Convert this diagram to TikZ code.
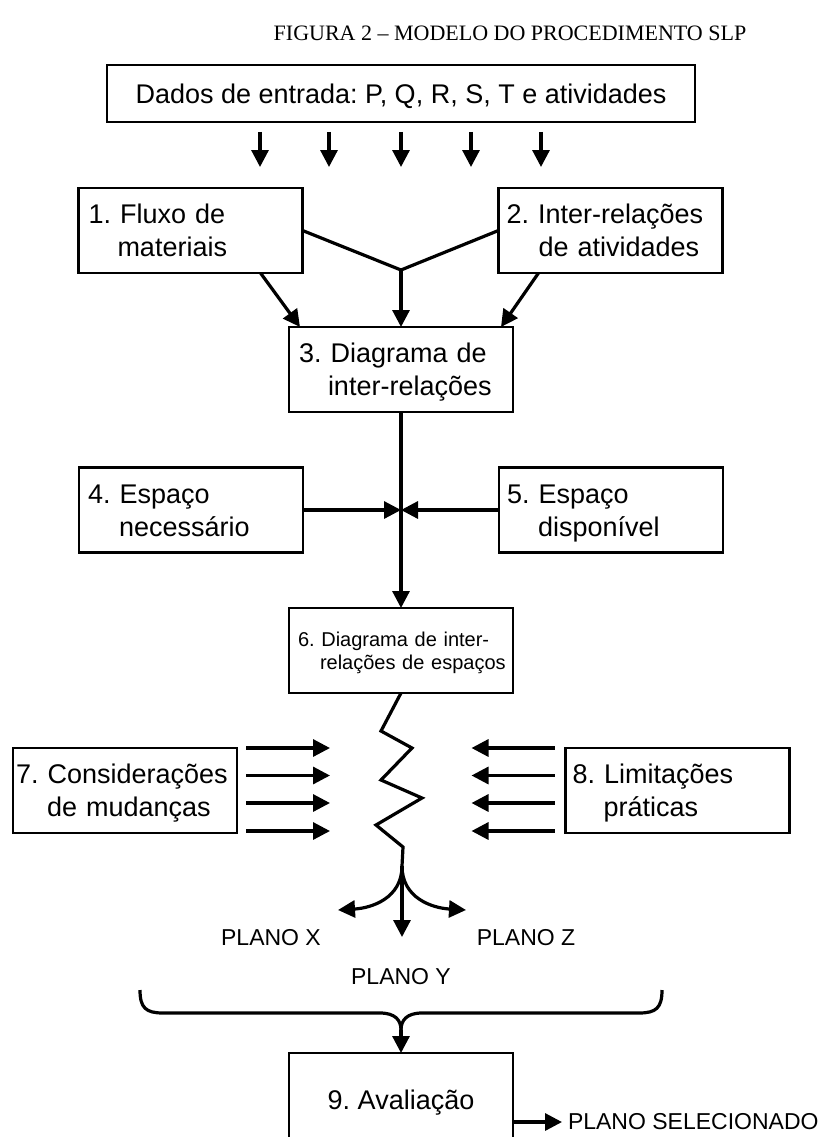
\documentclass[tikz,border=0pt]{standalone}
\usepackage{fontspec}
\setmainfont{Liberation Serif}
\newfontfamily\arialf{Liberation Sans}
\usetikzlibrary{arrows.meta,calc}
\newcommand\lstr{\rule[-6.85pt]{0pt}{33pt}}
\newcommand\sstr{\rule[-4.35pt]{0pt}{23pt}}
\begin{document}
\frenchspacing
\begin{tikzpicture}[x=1pt,y=-1pt,
  every node/.style={inner sep=0pt,outer sep=0pt},
  bx/.style={draw,line width=2.2pt,text width=224pt,minimum height=85pt,align=left,
    font=\arialf\frenchspacing\fontsize{27}{33}\selectfont},
  arr/.style={line width=3.2pt,-{Triangle[length=17pt,width=17pt]}},
  ln/.style={line width=3.2pt},
  lbl/.style={font=\arialf\fontsize{23}{27}\selectfont}]
\useasboundingbox (0,0) rectangle (826,1137);
\node[font=\fontsize{22}{26}\selectfont] (title) at (510,33) {FIGURA 2 – MODELO DO PROCEDIMENTO SLP};
\node[draw,line width=2.2pt,minimum width=588pt,minimum height=57pt,
  font=\arialf\frenchspacing\fontsize{27}{33}\selectfont] (top) at (401,93.5) {\lstr Dados de entrada: P, Q, R, S, T e atividades};
\foreach \dx in {-141,-72,0,70,140}
  \draw[arr] ($(top.south)+(\dx,10)$) -- ++(0,35);
\node[bx] (n1) at (190.5,230.5) {\hspace*{10pt}\lstr 1. Fluxo de\\\hspace*{39pt}\lstr materiais};
\node[bx] (n2) at (610.5,230.5) {\hspace*{8pt}\lstr 2. Inter-relações\\\hspace*{40pt}\lstr de atividades};
\node[bx] (n3) at (401,369.5) {\hspace*{10pt}\lstr 3. Diagrama de\\\hspace*{39pt}\lstr inter-relações};
\coordinate (J) at (401,270);
\draw[ln,line join=miter] (n1.east) -- (J) -- (n2.west);
\draw[arr] (J) -- (n3.north);
\draw[arr] ($(n1.south)+(70,0)$) -- ($(n3.north)+(-101,0)$);
\draw[arr] ($(n2.south)+(-72,0)$) -- ($(n3.north)+(100,0)$);
\node[bx] (n4) at (191,510) {\hspace*{9pt}\lstr 4. Espaço\\\hspace*{40pt}\lstr necessário};
\node[bx] (n5) at (611,510) {\hspace*{8pt}\lstr 5. Espaço\\\hspace*{39pt}\lstr disponível};
\node[bx,font=\arialf\frenchspacing\fontsize{20}{23}\selectfont] (n6) at (401,650.5) {\hspace*{9pt}\sstr 6. Diagrama de inter-\\\hspace*{31pt}\sstr relações de espaços};
\coordinate (M) at (401,510);
\draw[arr] (n3.south) -- (n6.north);
\draw[arr] (n4.east) -- (M);
\draw[arr] (n5.west) -- (M);
\node[bx] (n7) at (125,790.5) {\hspace*{3pt}\lstr 7. Considerações\\\hspace*{34pt}\lstr de mudanças};
\node[bx] (n8) at (677.5,790.5) {\hspace*{7pt}\lstr 8. Limitações\\\hspace*{38pt}\lstr práticas};
\foreach \dy in {-42.5,-15,12.5,40.5}{
  \draw[arr] ($(n7.east)+(9,\dy)$) -- ++(84,0);
  \draw[arr] ($(n8.west)+(-11,\dy)$) -- ++(-83,0);
}
\coordinate (B) at (402,866);
\draw[ln,line join=miter] (n6.south) -- (381,731) -- (412,748) -- (381,780) -- (422,798)
  -- (376,825) -- (403,847) -- (B);
\coordinate (Ytip) at (402,937);
\coordinate (Xtip) at (338,910);
\coordinate (Ztip) at (466,910);
\draw[arr] (B) -- (Ytip);
\draw[arr] (B) .. controls (402,898) and (372,908) .. (Xtip);
\draw[arr] (B) .. controls (402,898) and (432,908) .. (Ztip);
\node[lbl] (px) at (271,938) {PLANO X};
\node[lbl] (pz) at (526,938) {PLANO Z};
\node[lbl] (py) at (401,977) {PLANO Y};
\coordinate (BL) at (140,990);
\coordinate (BR) at (662,990);
\coordinate (C) at (401,1030);
\draw[ln] (BL) .. controls (140,1008) and (146,1013) .. (163,1013) -- (380,1013)
  .. controls (395,1013) and (401,1020) .. (C);
\draw[ln] (BR) .. controls (662,1008) and (656,1013) .. (639,1013) -- (422,1013)
  .. controls (407,1013) and (401,1020) .. (C);
\node[font=\arialf\frenchspacing\fontsize{27}{33}\selectfont,minimum width=224pt,minimum height=94pt] (n9) at (401,1100) {\lstr 9. Avaliação};
\coordinate (bot) at (0,1145);
\draw[line width=2.2pt] (n9.north west |- bot) -- (n9.north west) -- (n9.north east) -- (n9.north east |- bot);
\draw[arr] (C) -- (n9.north);
\node[lbl,anchor=west] (sel) at (568,1122) {PLANO SELECIONADO};
\draw[arr] (n9.east |- sel.west) -- ($(sel.west)+(-6,0)$);
\end{tikzpicture}
\end{document}
